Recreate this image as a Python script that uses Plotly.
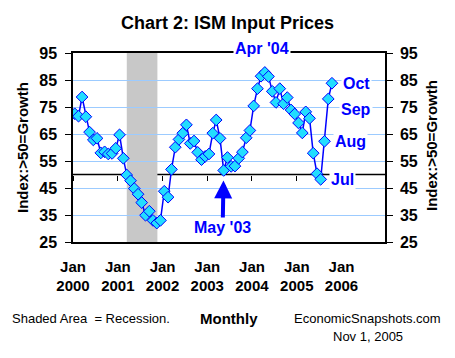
import plotly.graph_objects as go

# ---------------- data ----------------
years = [2000, 2001, 2002, 2003, 2004, 2005]
ism_2000 = [72.5, 71.6, 78.7, 71.4, 65.7, 62.8, 63.4, 58.0, 58.4, 57.6, 57.8, 59.7]
ism_2001 = [64.7, 56.0, 49.8, 47.7, 44.8, 42.7, 39.6, 34.9, 36.4, 33.0, 32.0, 33.0]
ism_2002 = [43.8, 41.6, 51.9, 60.1, 63.0, 65.3, 68.4, 61.5, 62.4, 58.2, 55.5, 56.7]
ism_2003 = [57.6, 65.3, 70.2, 63.4, 51.5, 56.3, 53.0, 53.1, 56.0, 58.3, 63.6, 66.3]
ism_2004 = [75.4, 81.8, 86.4, 87.8, 86.3, 80.8, 76.7, 81.8, 76.2, 78.5, 73.9, 72.4]
ism_2005 = [69.1, 65.4, 73.2, 70.8, 57.9, 50.3, 48.2, 62.3, 78.0, 83.8]
series_by_year = [ism_2000, ism_2001, ism_2002, ism_2003, ism_2004, ism_2005]

dates = []
values = []
for yr, vals in zip(years, series_by_year):
    for i, v in enumerate(vals):
        dates.append(f"{yr}-{i + 1:02d}-15")
        values.append(v)

tick_years = [2000, 2001, 2002, 2003, 2004, 2005, 2006]
tick_vals = [f"{y}-01-01" for y in tick_years]
tick_text = [f"Jan<br>{y}" for y in tick_years]
y_ticks = [25, 35, 45, 55, 65, 75, 85, 95]
recession = ["2001-03-15", "2001-11-20"]
growth_line = 50

# ---------------- layout geometry (page pixels) ----------------
PAGE_W, PAGE_H = 455, 358
OFF = 8  # default body margin of the html page
L, R, T, B = 73, 385, 53, 242
x_range = ["2000-01-01", "2006-12-22"]
y_range = [25, 95]


def px(x):
    return (x - L) / (R - L)


def py(y):
    return (B - y) / (B - T)


FONT = "Liberation Sans, Arial, sans-serif"
BLUE = "#0000FF"
LBL = dict(family=FONT, size=16, color=BLUE)

fig = go.Figure()
fig.add_trace(go.Scatter(
    x=dates, y=values, mode="lines+markers",
    line=dict(color=BLUE, width=1.5),
    marker=dict(symbol="diamond", size=9, color="#22DDFF",
                line=dict(color=BLUE, width=1)),
    showlegend=False, hoverinfo="x+y"))
# ghost trace so the secondary (right / 50-line) axes render
fig.add_trace(go.Scatter(
    x=dates, y=values, xaxis="x2", yaxis="y2", mode="markers",
    marker=dict(opacity=0), hoverinfo="skip", showlegend=False))

xtickfont = dict(family=FONT, size=15, color="black", weight="bold")
ytickfont = dict(family=FONT, size=16, color="black", weight="bold")

fig.update_layout(
    width=PAGE_W - OFF, height=PAGE_H - OFF,
    margin=dict(l=L - OFF, r=PAGE_W - R, t=T - OFF, b=PAGE_H - B, autoexpand=False),
    paper_bgcolor="white", plot_bgcolor="white",
    xaxis=dict(type="date", range=x_range, tickvals=tick_vals, ticktext=tick_text,
               ticks="", showline=True, mirror=True, linecolor="black", linewidth=1.5,
               showgrid=False, zeroline=False, tickfont=xtickfont, ticklabelstandoff=10),
    xaxis2=dict(type="date", range=x_range, overlaying="x", anchor="free",
                position=(growth_line - y_range[0]) / (y_range[1] - y_range[0]),
                tickvals=tick_vals, ticks="outside", ticklen=5, tickwidth=1,
                tickcolor="black", showticklabels=False, showline=False,
                showgrid=False, zeroline=False),
    yaxis=dict(range=y_range, tickvals=y_ticks, ticks="outside", ticklen=6,
               tickcolor="black", showline=True, linecolor="black", linewidth=1.5,
               showgrid=True, gridcolor="#9CCBFF", gridwidth=1, zeroline=False,
               tickfont=ytickfont, ticklabelstandoff=5),
    yaxis2=dict(range=y_range, tickvals=y_ticks, overlaying="y", side="right",
                anchor="x", ticks="outside", ticklen=6, tickcolor="black",
                showline=True, linecolor="black", linewidth=1.5, showgrid=False,
                zeroline=False, tickfont=ytickfont, ticklabelstandoff=4),
    shapes=[
        dict(type="line", xref="paper", x0=0, x1=1, yref="y", y0=growth_line,
             y1=growth_line, line=dict(color="black", width=1.5), layer="between"),
        dict(type="rect", xref="x", x0=recession[0], x1=recession[1], yref="paper",
             y0=0, y1=1, fillcolor="#C8C8C8", line=dict(width=0), layer="between"),
    ],
)

ann = []
# point labels
ann.append(dict(x=dates[51], y=1, yref="paper", xref="x", text="<b>Apr '04</b>",
                showarrow=False, font=LBL, bgcolor="white", borderpad=1,
                xanchor="center", yanchor="middle", xshift=-3, yshift=5))
ann.append(dict(x=dates[69], y=values[69], text="<b>Oct</b>", showarrow=False,
                font=LBL, bgcolor="white", borderpad=1, xanchor="left",
                yanchor="middle", xshift=9))
ann.append(dict(x=dates[68], y=values[68], text="<b>Sep</b>", showarrow=False,
                font=LBL, bgcolor="white", borderpad=1, xanchor="left",
                yanchor="middle", xshift=11, yshift=-11))
ann.append(dict(x=dates[67], y=values[67], text="<b>Aug</b>", showarrow=False,
                font=LBL, bgcolor="white", borderpad=1, xanchor="left",
                yanchor="middle", xshift=9))
ann.append(dict(x=dates[66], y=values[66], text="<b>Jul</b>", showarrow=False,
                font=LBL, bgcolor="white", borderpad=1, xanchor="left",
                yanchor="middle", xshift=8))
ann.append(dict(x=dates[40], y=values[40], text="<b>May '03</b>", showarrow=True,
                ax=-1, ay=57, arrowcolor=BLUE, arrowwidth=4, arrowhead=2,
                arrowsize=0.9, standoff=10, font=LBL, bgcolor="white", borderpad=1))


def note(x, y, text, size, xanchor="center", angle=0):
    ann.append(dict(x=px(x), y=py(y), xref="paper", yref="paper", text=text,
                    showarrow=False, xanchor=xanchor, yanchor="middle",
                    textangle=angle, font=dict(family=FONT, size=size, color="black")))


note(227, 23, "<b>Chart 2: ISM Input Prices</b>", 18)
note(22, 148, "<b>Index:>50=Growth</b>", 15, angle=-90)
note(431, 146, "<b>Index:>50=Growth</b>", 15, angle=-90)
note(10, 318, "Shaded Area  = Recession.", 13, xanchor="left")
note(229, 318, "<b>Monthly</b>", 15)
note(367, 318, "EconomicSnapshots.com", 13)
note(368, 336, "Nov 1, 2005", 13)
fig.update_layout(annotations=ann)

fig.write_html("out.html")
